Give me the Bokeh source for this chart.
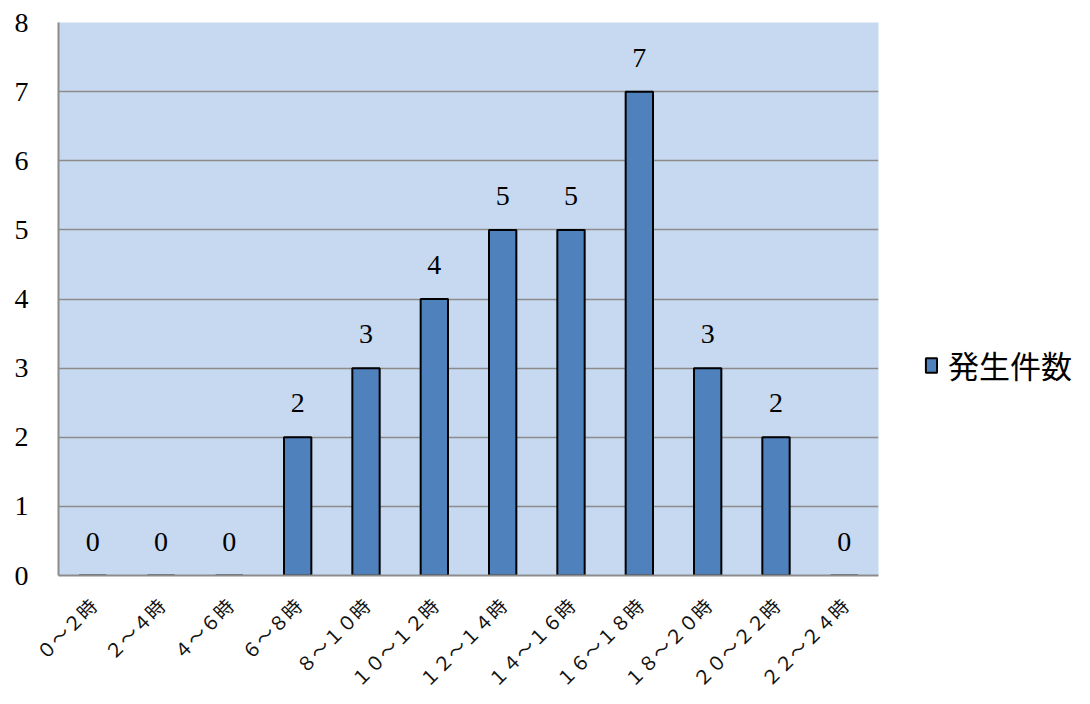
from bokeh.plotting import figure
from bokeh.models import ColumnDataSource, Legend, LegendItem, FixedTicker
from bokeh.core.properties import value
from bokeh.embed import file_html
from bokeh.resources import INLINE
import math

categories = ["０～２時", "２～４時", "４～６時", "６～８時", "８～１０時", "１０～１２時",
              "１２～１４時", "１４～１６時", "１６～１８時", "１８～２０時", "２０～２２時", "２２～２４時"]
counts = [0, 0, 0, 2, 3, 4, 5, 5, 7, 3, 2, 0]
series_name = "発生件数"

src = ColumnDataSource(data=dict(cat=categories, n=counts, lbl=[str(v) for v in counts]))

p = figure(width=1090, height=704, frame_width=820, frame_height=553,
           x_range=categories, y_range=(0, 8),
           output_backend="svg", toolbar_location=None,
           min_border_left=58, min_border_right=0, min_border_top=22, min_border_bottom=129)
p.background_fill_color = "#C6D9F0"
p.border_fill_color = "white"
p.outline_line_color = None

r = p.vbar(x="cat", top="n", width=0.4, source=src, fill_color="#4F81BD",
           line_color="black", line_width=2)
p.text(x="cat", y="n", text="lbl", source=src, text_align="center", text_baseline="middle",
       y_offset=-34, text_font=value("Liberation Serif"), text_font_size="28px", text_color="black")

p.xgrid.grid_line_color = None
p.ygrid.grid_line_color = "#8C8C8C"
p.ygrid.grid_line_width = 1.5
p.yaxis.ticker = FixedTicker(ticks=list(range(0, 9)))
p.yaxis.axis_line_color = "#8C8C8C"
p.yaxis.axis_line_width = 2
p.yaxis.major_tick_line_color = None
p.yaxis.minor_tick_line_color = None
p.yaxis.major_label_text_font = "Liberation Serif"
p.yaxis.major_label_text_font_size = "28px"
p.yaxis.major_label_text_color = "black"
p.yaxis.major_label_standoff = 24

p.xaxis.axis_line_color = "#8C8C8C"
p.xaxis.axis_line_width = 2
p.xaxis.major_tick_line_color = None
p.xaxis.major_label_orientation = math.pi / 4
p.xaxis.major_label_text_font = "Noto Sans CJK JP"
p.xaxis.major_label_text_font_size = "19px"
p.xaxis.major_label_text_color = "#111111"
p.xaxis.major_label_standoff = 20

legend = Legend(items=[LegendItem(label=series_name, renderers=[r])],
                location=(46, 188), border_line_color=None, background_fill_alpha=0,
                label_text_font="Noto Sans CJK JP", label_text_font_size="31px",
                label_text_color="black",
                glyph_width=14, glyph_height=18, padding=0, margin=0, spacing=0,
                label_standoff=10)
p.add_layout(legend, "right")

open("out.html", "w").write(file_html(p, INLINE))
